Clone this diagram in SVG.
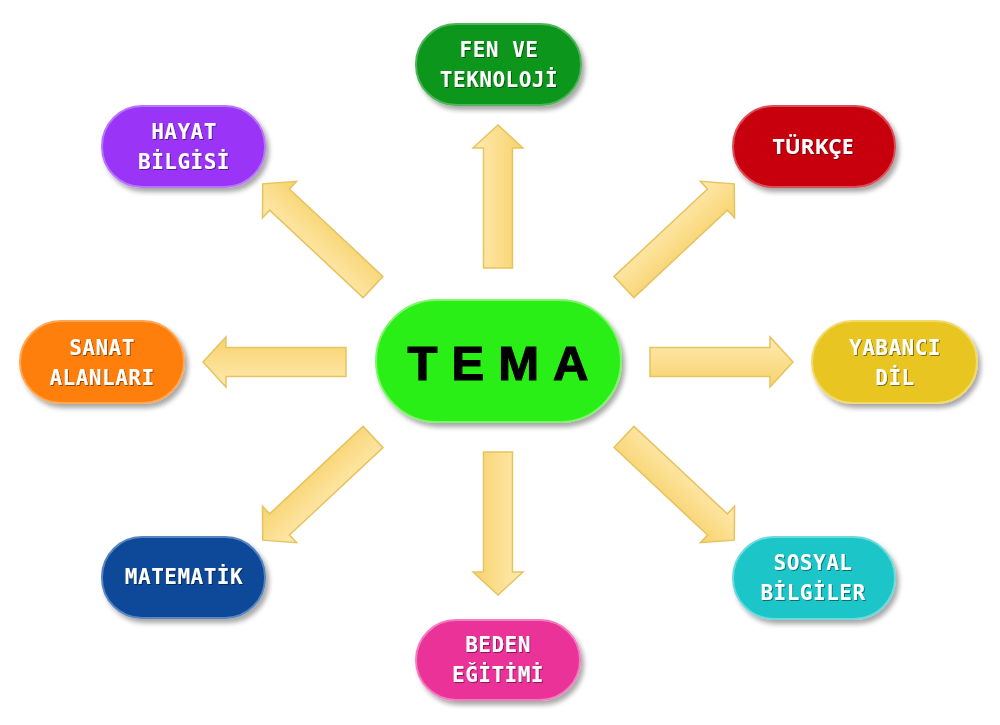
<svg xmlns="http://www.w3.org/2000/svg" width="1000" height="725" viewBox="0 0 1000 725">
<defs>
<linearGradient id="ag" x1="0" y1="0" x2="0" y2="1">
<stop offset="0" stop-color="#ffeab0"/>
<stop offset="1" stop-color="#f7d26c"/>
</linearGradient>
<filter id="sh" x="-20%" y="-20%" width="140%" height="150%">
<feGaussianBlur in="SourceAlpha" stdDeviation="2.5"/>
<feOffset dx="3" dy="4" result="b"/>
<feComponentTransfer><feFuncA type="linear" slope="0.35"/></feComponentTransfer>
<feMerge><feMergeNode/><feMergeNode in="SourceGraphic"/></feMerge>
</filter>
<filter id="ts" x="-10%" y="-20%" width="120%" height="150%">
<feGaussianBlur in="SourceAlpha" stdDeviation="0.6"/>
<feOffset dx="1" dy="1"/>
<feComponentTransfer><feFuncA type="linear" slope="0.45"/></feComponentTransfer>
<feMerge><feMergeNode/><feMergeNode in="SourceGraphic"/></feMerge>
</filter>
<path id="arr" d="M0,-14.5 L120,-14.5 L120,-25 L143,0 L120,25 L120,14.5 L0,14.5 Z"/>
<path id="arrd" d="M0,-14.5 L128,-14.5 L128,-25 L151,0 L128,25 L128,14.5 L0,14.5 Z"/>
</defs>
<style>
.node rect{stroke-width:2;filter:url(#sh)}
.lbl{font-family:"DejaVu Sans Mono",monospace;font-weight:bold;font-size:21px;letter-spacing:0.5px;fill:#ffffff;text-anchor:middle;filter:url(#ts)}
.lbls{font-family:"Open Sans","DejaVu Sans",sans-serif;font-weight:bold;font-size:21px;fill:#ffffff;text-anchor:middle;filter:url(#ts)}
.conn use{fill:url(#ag);stroke:#e6c35e;stroke-width:1.5;stroke-linejoin:miter}
</style>
<rect width="1000" height="725" fill="#ffffff"/>
<g id="connectors" class="conn">
<use href="#arr" transform="translate(498,268) rotate(-90)"/>
<use href="#arr" transform="translate(498,452) rotate(90)"/>
<use href="#arr" transform="translate(650,362)"/>
<use href="#arr" transform="translate(346,362) rotate(180)"/>
<use href="#arrd" transform="translate(624,287) rotate(-43.1)"/>
<use href="#arrd" transform="translate(373,287) rotate(-136.9)"/>
<use href="#arrd" transform="translate(373,437) rotate(136.9)"/>
<use href="#arrd" transform="translate(624,437) rotate(43.1)"/>
</g>
<g id="tema" class="node">
<rect x="376" y="300" width="245" height="122" rx="61" fill="#2cef12" stroke="#7ef56a"/>
<text x="505" y="380" font-family="'Liberation Sans',Arial,sans-serif" font-weight="bold" font-size="49" letter-spacing="14" text-anchor="middle" fill="#000000" stroke="#000000" stroke-width="1.2">TEMA</text>
</g>
<g id="fen" class="node">
<rect x="416" y="24" width="165" height="81" rx="40" fill="#0f961c" stroke="#4fb45a"/>
<text class="lbl" x="499" y="57">FEN VE</text>
<text class="lbl" x="499" y="87">TEKNOLOJİ</text>
</g>
<g id="hayat" class="node">
<rect x="102" y="106" width="163" height="81" rx="40" fill="#9a35f7" stroke="#b777fa"/>
<text class="lbl" x="184" y="139">HAYAT</text>
<text class="lbl" x="184" y="169">BİLGİSİ</text>
</g>
<g id="turkce" class="node">
<rect x="733" y="106" width="162" height="81" rx="40" fill="#c8000e" stroke="#dc5058"/>
<text class="lbls" x="813" y="154">TÜRKÇE</text>
</g>
<g id="sanat" class="node">
<rect x="20" y="321" width="164" height="82" rx="41" fill="#ff7f0a" stroke="#ffa654"/>
<text class="lbl" x="102" y="355">SANAT</text>
<text class="lbl" x="102" y="385">ALANLARI</text>
</g>
<g id="yabanci" class="node">
<rect x="812" y="321" width="165" height="82" rx="41" fill="#e9c520" stroke="#f2da6a"/>
<text class="lbl" x="895" y="355">YABANCI</text>
<text class="lbl" x="895" y="385">DİL</text>
</g>
<g id="matematik" class="node">
<rect x="102" y="537" width="163" height="81" rx="40" fill="#0a4998" stroke="#5a86bf"/>
<text class="lbl" x="184" y="584">MATEMATİK</text>
</g>
<g id="sosyal" class="node">
<rect x="733" y="537" width="162" height="82" rx="41" fill="#1ec6c8" stroke="#6cdadb"/>
<text class="lbl" x="813" y="570">SOSYAL</text>
<text class="lbl" x="813" y="600">BİLGİLER</text>
</g>
<g id="beden" class="node">
<rect x="416" y="620" width="164" height="80" rx="40" fill="#ea3399" stroke="#f27cbd"/>
<text class="lbl" x="498" y="652">BEDEN</text>
<text class="lbl" x="498" y="682">EĞİTİMİ</text>
</g>
</svg>
